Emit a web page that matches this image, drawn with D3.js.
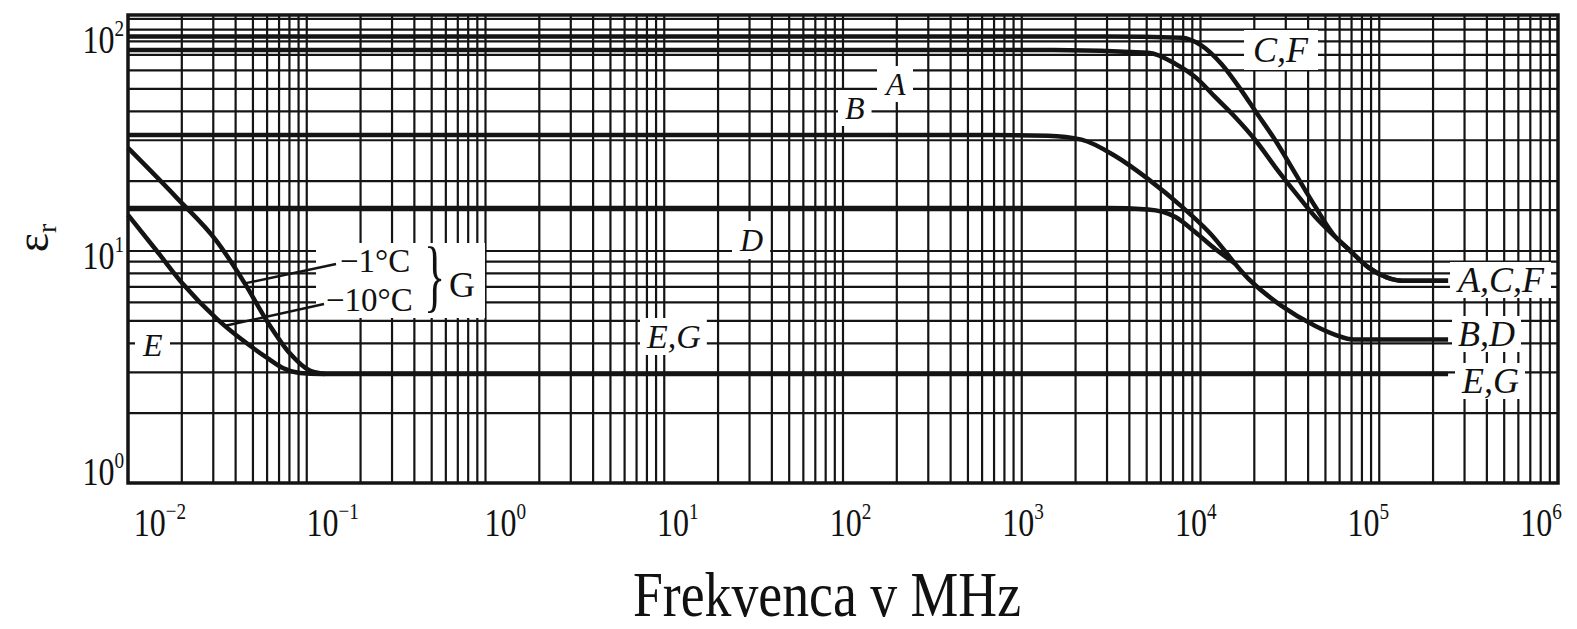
<!DOCTYPE html>
<html>
<head>
<meta charset="utf-8">
<script src="https://cdn.jsdelivr.net/npm/d3@7"></script>
<style>
  body { margin: 0; background: #fff; }
  svg { display: block; }
  text { font-family: "Liberation Serif", "DejaVu Serif", serif; fill: #111; }
</style>
</head>
<body>
<div id="chart"></div>
<script>
// frequency (MHz) -> relative permittivity
const curveCF = [[0.01, 84], [3000, 84], [7800, 83], [10100, 77], [13100, 64], [17000, 49], [20300, 40],
                 [26200, 30], [34000, 21.5], [43900, 15.5], [56800, 11.5], [67100, 10.2], [86900, 8.5], [110000, 7.7], [135000, 7.45], [242700, 7.45]];
const curveA = [[0.01, 73.5], [1500, 73.5], [5100, 71.5], [7250, 64], [9400, 56], [12100, 46], [15700, 37.6],
                [20300, 30], [26200, 23], [34000, 17.8], [43900, 14], [56800, 11.5], [67100, 10.2], [86900, 8.5], [110000, 7.7], [135000, 7.45], [242700, 7.45]];
const curveB = [[0.01, 31.6], [700, 31.6], [1400, 31.4], [2160, 30.2], [3350, 25.6], [5100, 20.4], [7800, 15.6],
                [11100, 12.1], [18500, 7.6], [28400, 5.8], [43900, 4.75], [56800, 4.35], [72000, 4.15], [242700, 4.15]];
const curveD = [[0.01, 15.3], [3000, 15.3], [5100, 15.1], [7250, 14.0], [9400, 12.0], [12100, 10.2], [15700, 8.8]];
const curveEG = [[0.01, 14.3], [0.0145, 10], [0.0203, 7.2], [0.0314, 5.1], [0.0439, 4.12], [0.0598, 3.47],
                 [0.0735, 3.13], [0.0914, 2.98], [0.12, 2.95], [242700, 2.95]];
const curveG1 = [[0.01, 27.8], [0.0188, 16.9], [0.0314, 11.0], [0.0451, 7.23], [0.0598, 5.0], [0.0804, 3.62],
                 [0.104, 3.05], [0.126, 2.95]];

const xTicks = [1e-2, 1e-1, 1e0, 1e1, 1e2, 1e3, 1e4, 1e5, 1e6];
const xTickExp = ["\u22122", "\u22121", "0", "1", "2", "3", "4", "5", "6"];
const yTicks = [1, 10, 100];
const yTickExp = ["0", "1", "2"];
const yGridExtra = [15];

const width = 1577, height = 629;
const margin = {left: 128, right: 1558, top: 15, bottom: 483};

const svg = d3.select("#chart").append("svg")
    .attr("width", width)
    .attr("height", height);

const x = d3.scaleLog().domain([1e-2, 1e6]).range([margin.left, margin.right]);
const y = d3.scaleLog().domain([1, 104]).range([margin.bottom, margin.top]);
// the printed tick numbers sit on a slightly different spacing than the grid
const xLab = d3.scaleLog().domain([1e-2, 1e6]).range([160, 1541]);
const yLab = d3.scaleLog().domain([1, 100]).range([485, 53]);

const ink = "#141414";

// grid
const gGrid = svg.append("g");
gGrid.selectAll("line.v")
    .data(x.ticks().filter(d => d > 1e-2 && d < 1e6))
    .enter().append("line")
    .attr("x1", d => x(d)).attr("x2", d => x(d))
    .attr("y1", margin.top).attr("y2", margin.bottom)
    .style("stroke", ink).style("stroke-width", 2.2);

gGrid.selectAll("line.h")
    .data(y.ticks().concat(yGridExtra).filter(d => d > 1))
    .enter().append("line")
    .attr("x1", margin.left).attr("x2", margin.right)
    .attr("y1", d => y(d)).attr("y2", d => y(d))
    .style("stroke", ink).style("stroke-width", 2.2);

const gBoxes = svg.append("g");

// curves
const line = d3.line()
    .x(d => x(d[0]))
    .y(d => y(d[1]))
    .curve(d3.curveMonotoneX);

const gCurves = svg.append("g");
[curveCF, curveA, curveB, curveD, curveEG, curveG1].forEach(c => {
    gCurves.append("path")
        .attr("d", line(c))
        .style("fill", "none")
        .style("stroke", ink)
        .style("stroke-width", 4.5)
        .style("stroke-linejoin", "round");
});

// value on a curve at frequency f (log-log interpolation)
function valueAt(curve, f) {
    for (let i = 1; i < curve.length; i++) {
        if (f <= curve[i][0]) {
            let t = (Math.log(f) - Math.log(curve[i - 1][0])) / (Math.log(curve[i][0]) - Math.log(curve[i - 1][0]));
            return Math.exp(Math.log(curve[i - 1][1]) + t * (Math.log(curve[i][1]) - Math.log(curve[i - 1][1])));
        }
    }
    return curve[curve.length - 1][1];
}

// leaders for the G temperatures
const gLead = svg.append("g");
gLead.append("line")
    .attr("x1", 336).attr("y1", 264)
    .attr("x2", x(0.045)).attr("y2", y(valueAt(curveG1, 0.045)))
    .style("stroke", ink).style("stroke-width", 2.5);
gLead.append("line")
    .attr("x1", 324).attr("y1", 304)
    .attr("x2", x(0.035)).attr("y2", y(valueAt(curveEG, 0.035)))
    .style("stroke", ink).style("stroke-width", 2.5);

// labels inside the plot
const gLab = svg.append("g");
function label(txt, lx, ly, size, italic) {
    return gLab.append("text")
        .attr("x", lx).attr("y", ly)
        .attr("font-size", size)
        .attr("font-style", italic ? "italic" : "normal")
        .text(txt);
}
function whiteBox(nodes, padX, padY) {
    let b = nodes.map(n => n.node().getBBox());
    let x0 = d3.min(b, d => d.x) - padX, x1 = d3.max(b, d => d.x + d.width) + padX;
    let y0 = d3.min(b, d => d.y) + 4 - padY, y1 = d3.max(b, d => d.y + d.height) - 4 + padY;
    gBoxes.append("rect")
        .attr("x", x0).attr("y", y0)
        .attr("width", x1 - x0).attr("height", y1 - y0)
        .style("fill", "#fff");
}

whiteBox([label("C,F", 1253, 62, 36, true)], 9, 4);
whiteBox([label("A", 886, 95, 32, true)], 7, 4);
whiteBox([label("B", 845, 119, 32, true)], 7, 4);
whiteBox([label("D", 740, 251, 32, true)], 7, 5);
whiteBox([label("E,G", 647, 348, 34, true)], 6, 4);
whiteBox([label("E", 143, 356, 32, true)], 7, 4);
whiteBox([label("A,C,F", 1458, 292, 36, true)], 6, 2);
whiteBox([label("B,D", 1458, 346, 36, true)], 6, 2);
whiteBox([label("E,G", 1462, 393, 36, true)], 6, 2);

let tG = [
    label("\u22121\u00b0C", 340, 272, 33, false),
    label("\u221210\u00b0C", 326, 311, 33, false),
    label("G", 449, 297, 36, false)
];
gLab.append("text")
    .attr("transform", "translate(424,302) scale(0.55,1)")
    .attr("font-size", 80)
    .text("}");
whiteBox(tG, 10, 4);

// frame
svg.append("rect")
    .attr("x", margin.left).attr("y", margin.top)
    .attr("width", margin.right - margin.left).attr("height", margin.bottom - margin.top)
    .style("fill", "none").style("stroke", ink).style("stroke-width", 3.5);

// tick labels
function power(sel, exp) {
    sel.append("tspan").text("10");
    sel.append("tspan").attr("dy", "-0.72em").attr("font-size", "0.6em").text(exp);
}

svg.append("g").selectAll("text")
    .data(xTicks)
    .enter().append("text")
    .attr("transform", d => "translate(" + xLab(d) + ",536) scale(0.8,1)")
    .attr("text-anchor", "middle")
    .attr("font-size", 40)
    .each(function (d, i) { power(d3.select(this), xTickExp[i]); });

svg.append("g").selectAll("text")
    .data(yTicks)
    .enter().append("text")
    .attr("transform", d => "translate(124," + yLab(d) + ") scale(0.8,1)")
    .attr("text-anchor", "end")
    .attr("font-size", 40)
    .each(function (d, i) { power(d3.select(this), yTickExp[i]); });

// axis titles
svg.append("text")
    .attr("transform", "translate(827,616) scale(0.84,1)")
    .attr("text-anchor", "middle")
    .attr("font-size", 64)
    .text("Frekvenca v MHz");

let eps = svg.append("text")
    .attr("transform", "translate(48,238) rotate(-90)")
    .attr("text-anchor", "middle")
    .attr("font-size", 46);
eps.append("tspan").text("\u03b5");
eps.append("tspan").attr("dy", "0.3em").attr("font-size", "0.6em").text("r");
</script>
</body>
</html>
